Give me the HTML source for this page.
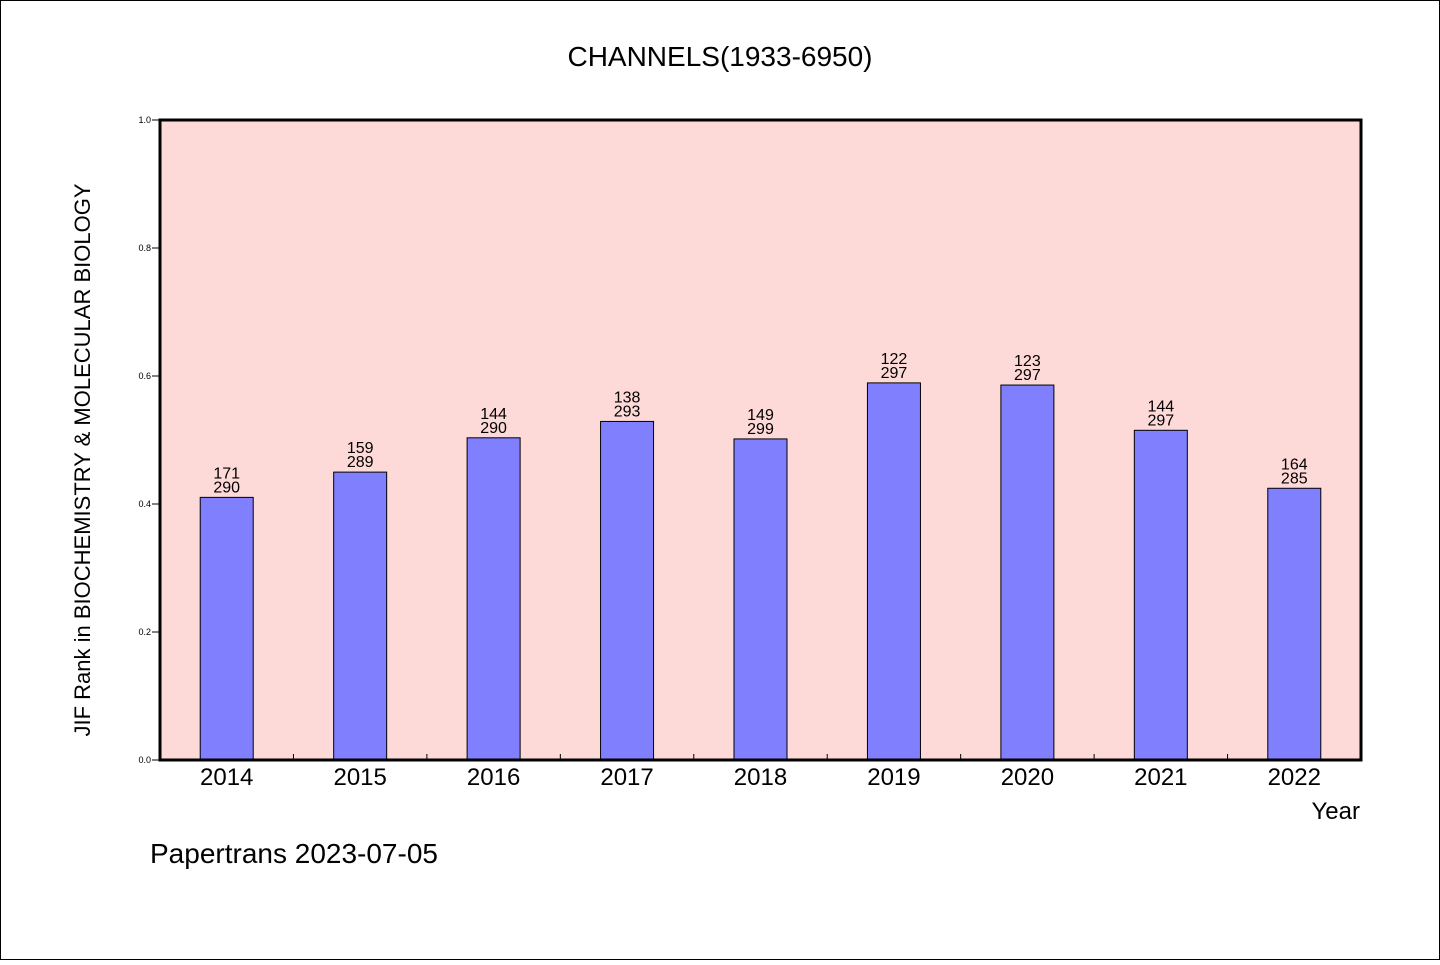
<!DOCTYPE html>
<html><head><meta charset="utf-8"><style>
body{margin:0;background:#fff}
svg text{font-family:"WenQuanYi Zen Hei","Liberation Sans",sans-serif;fill:#000}
</style></head><body>
<svg id="c" width="1440" height="960" xmlns="http://www.w3.org/2000/svg">
<rect x="0.5" y="0.5" width="1439" height="959" fill="#fff" stroke="#000"/>
<text x="720" y="66" font-size="28" text-anchor="middle">CHANNELS(1933-6950)</text>
<rect x="160" y="120" width="1201" height="640" fill="#fdd9d7"/>
<g id="bars"></g>
<rect x="160" y="120" width="1201" height="640" fill="none" stroke="#000" stroke-width="3"/>
<text transform="translate(90,460) rotate(-90)" font-size="22" text-anchor="middle">JIF Rank in BIOCHEMISTRY &amp; MOLECULAR BIOLOGY</text>
<text x="1360" y="819" font-size="24" text-anchor="end">Year</text>
<text x="150" y="863" font-size="28">Papertrans 2023-07-05</text>
</svg>
<script>
const years=["2014","2015","2016","2017","2018","2019","2020","2021","2022"];
const ranks=[171,159,144,138,149,122,123,144,164];
const totals=[290,289,290,293,299,297,297,297,285];
const yTicks=[0,0.2,0.4,0.6,0.8,1.0];
const X0=160,W=1201,Y0=760,H=640;
const step=W/years.length;
const xc=i=>X0+step*(i+0.5);
const ys=v=>Y0-v*H;
const svg=document.getElementById('c'),g=document.getElementById('bars');
const NS="http://www.w3.org/2000/svg";
function mk(t,a,p){const e=document.createElementNS(NS,t);for(const k in a)e.setAttribute(k,a[k]);(p||svg).appendChild(e);return e;}
yTicks.forEach(v=>{
 mk('line',{x1:X0-8,x2:X0,y1:ys(v),y2:ys(v),stroke:'#000'});
 const t=mk('text',{x:X0-9,y:ys(v)+3,'font-size':9,'text-anchor':'end'});
 t.textContent=v.toFixed(1);
 
 
});
years.forEach((y,i)=>{
 const v=1-ranks[i]/totals[i];
 const r=mk('rect',{x:xc(i)-26.5,y:ys(v),width:53,height:Y0-ys(v),fill:'#8080ff',stroke:'#000','stroke-width':1},g);
 
 
 const t1=mk('text',{x:xc(i),y:ys(v)-19,'font-size':16,'text-anchor':'middle'});
 t1.textContent=ranks[i];
 
 
 const t2=mk('text',{x:xc(i),y:ys(v)-5,'font-size':16,'text-anchor':'middle'});
 t2.textContent=totals[i];
 
 
 const xl=mk('text',{x:xc(i),y:785,'font-size':24,'text-anchor':'middle'});
 xl.textContent=y;
 
 
 if(i>0)mk('line',{x1:X0+step*i,x2:X0+step*i,y1:Y0,y2:Y0-6,stroke:'#000'});
});
</script>
</body></html>
